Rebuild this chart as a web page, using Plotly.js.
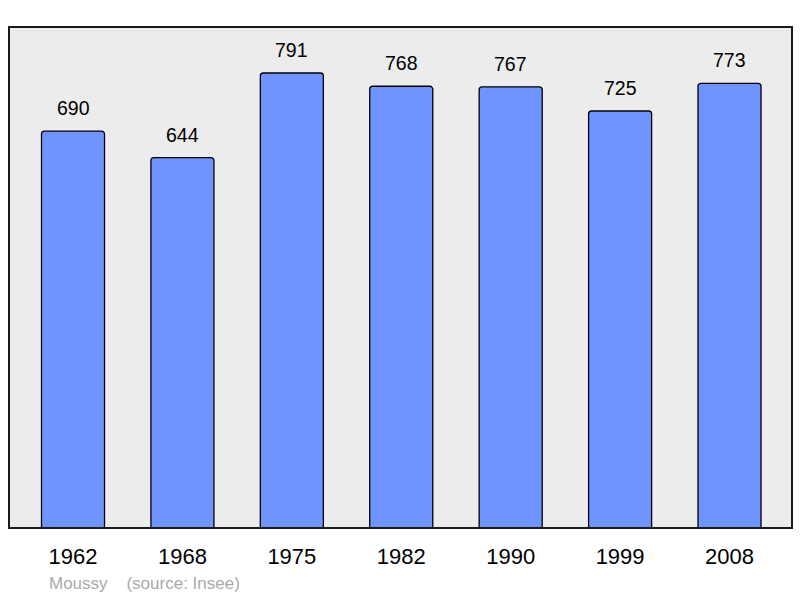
<!DOCTYPE html>
<html>
<head>
<meta charset="utf-8">
<script src="https://cdn.plot.ly/plotly-3.0.1.min.js"></script>
<style>html,body{margin:0;padding:0;background:#fff;}#chart{width:800px;height:598px;}</style>
</head>
<body>
<div id="chart"></div>
<script>
var years = ["1962","1968","1975","1982","1990","1999","2008"];
var population = [690, 644, 791, 768, 767, 725, 773];
var placeName = "Moussy";
var sourceNote = "(source: Insee)";

var trace = {
  type: "bar",
  x: years,
  y: population,
  width: 0.576,
  marker: {color: "#7094ff", line: {color: "#000", width: 1.3}, cornerradius: 3},
  hoverinfo: "none"
};

var annotations = years.map(function(yr, i){
  return {x: i, y: population[i], xref: "x", yref: "y", text: String(population[i]),
    showarrow: false, yanchor: "bottom", yshift: 10,
    font: {family: "Liberation Sans, Arial, sans-serif", size: 19.5, color: "#000"}};
});
annotations.push({xref: "paper", yref: "paper", x: 0.0485, y: -0.11, xanchor: "left", yanchor: "middle",
  text: placeName + "    " + sourceNote, showarrow: false,
  font: {family: "Liberation Sans, Arial, sans-serif", size: 17, color: "#aaaaaa"}});

var layout = {
  width: 800, height: 598,
  margin: {l: 9, r: 8, t: 27, b: 70},
  paper_bgcolor: "#ffffff",
  plot_bgcolor: "#ececec",
  showlegend: false,
  xaxis: {type: "category", range: [-0.585, 6.571], showgrid: false, zeroline: false,
    showline: false, ticks: "", ticklabelstandoff: 13,
    tickfont: {family: "Liberation Sans, Arial, sans-serif", size: 22, color: "#000"}},
  yaxis: {range: [0, 871], showgrid: false, zeroline: false, showticklabels: false, showline: false},
  shapes: [{type: "rect", xref: "paper", yref: "paper", x0: 0, x1: 1, y0: 0, y1: 1,
    line: {color: "#1a1a1a", width: 2}}],
  annotations: annotations
};

Plotly.newPlot("chart", [trace], layout, {staticPlot: true});
</script>
</body>
</html>
